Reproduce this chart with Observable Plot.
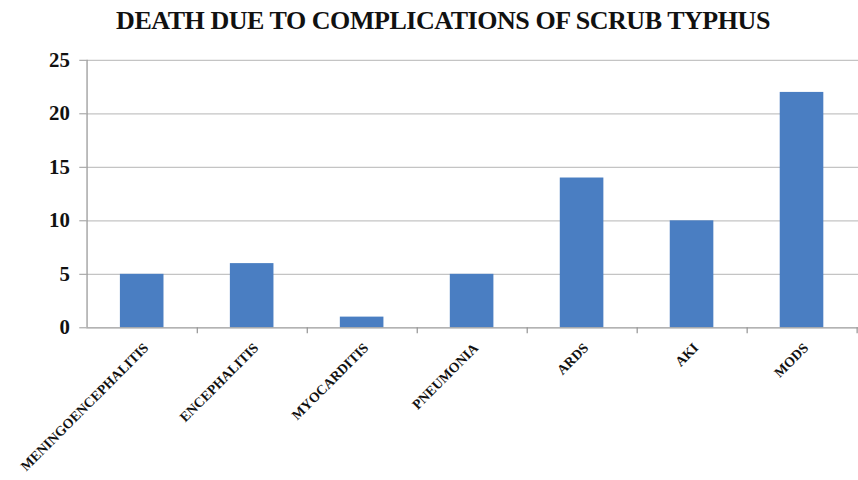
<!DOCTYPE html>
<html>
<head>
<meta charset="utf-8">
<script src="https://cdn.jsdelivr.net/npm/d3@7"></script>
<script src="https://cdn.jsdelivr.net/npm/@observablehq/plot@0.6"></script>
<style>
  html, body { margin: 0; padding: 0; background: #fff; overflow: hidden; width: 858px; height: 480px; }
  #title { box-sizing: border-box; padding-left: 28px; height: 40px; line-height: 42px; font-family: "Liberation Serif", "Times New Roman", serif; font-weight: bold; font-size: 26px; text-align: center; width: 858px; color: #111; letter-spacing: -0.45px; white-space: nowrap; }
  #chart svg { display: block; }
</style>
</head>
<body>
<div id="title">DEATH DUE TO COMPLICATIONS OF SCRUB TYPHUS</div>
<div id="chart"></div>
<script>
const categories = ["MENINGOENCEPHALITIS", "ENCEPHALITIS", "MYOCARDITIS", "PNEUMONIA", "ARDS", "AKI", "MODS"];
const deaths = [5, 6, 1, 5, 14, 10, 22];
const yTicks = [0, 5, 10, 15, 20, 25];

const data = categories.map((c, i) => ({category: c, value: deaths[i]}));

const width = 866, marginLeft = 87, marginRight = 0;
const step = (width - marginLeft - marginRight) / categories.length;
const serif = "Liberation Serif, Times New Roman, serif";

const chart = Plot.plot({
  width,
  height: 440,
  marginTop: 20,
  marginBottom: 150,
  marginLeft,
  marginRight,
  style: {fontFamily: serif, background: "#fff"},
  x: {domain: categories, paddingInner: 0.6, paddingOuter: 0.3, axis: null},
  y: {domain: [0, 25]},
  marks: [
    Plot.gridY(yTicks.filter(d => d > 0), {stroke: "#c4c4c4", strokeOpacity: 1, strokeWidth: 1.3}),
    Plot.axisY(yTicks, {tickSize: 7, stroke: "#9a9a9a", tickPadding: 10, fontSize: 21, fontWeight: "bold", fill: "#111", label: null}),
    Plot.barY(data, {x: "category", y: "value", fill: "#4a7ec2"}),
    Plot.ruleY([0], {stroke: "#9a9a9a", strokeWidth: 1.3}),
    Plot.ruleX([categories[0]], {x: d => d, dx: -step / 2, y1: 0, y2: 25, stroke: "#9a9a9a", strokeWidth: 1.3}),
    Plot.ruleX(categories, {x: d => d, dx: step / 2, y1: 0, y2: -0.55, stroke: "#9a9a9a", strokeWidth: 1.3}),
    Plot.text(categories, {x: d => d, y: 0, text: d => d, rotate: -45, textAnchor: "end", dx: 4, dy: 18, fontSize: 14, fontWeight: "bold", fill: "#111"})
  ]
});
document.getElementById("chart").appendChild(chart);
</script>
</body>
</html>
